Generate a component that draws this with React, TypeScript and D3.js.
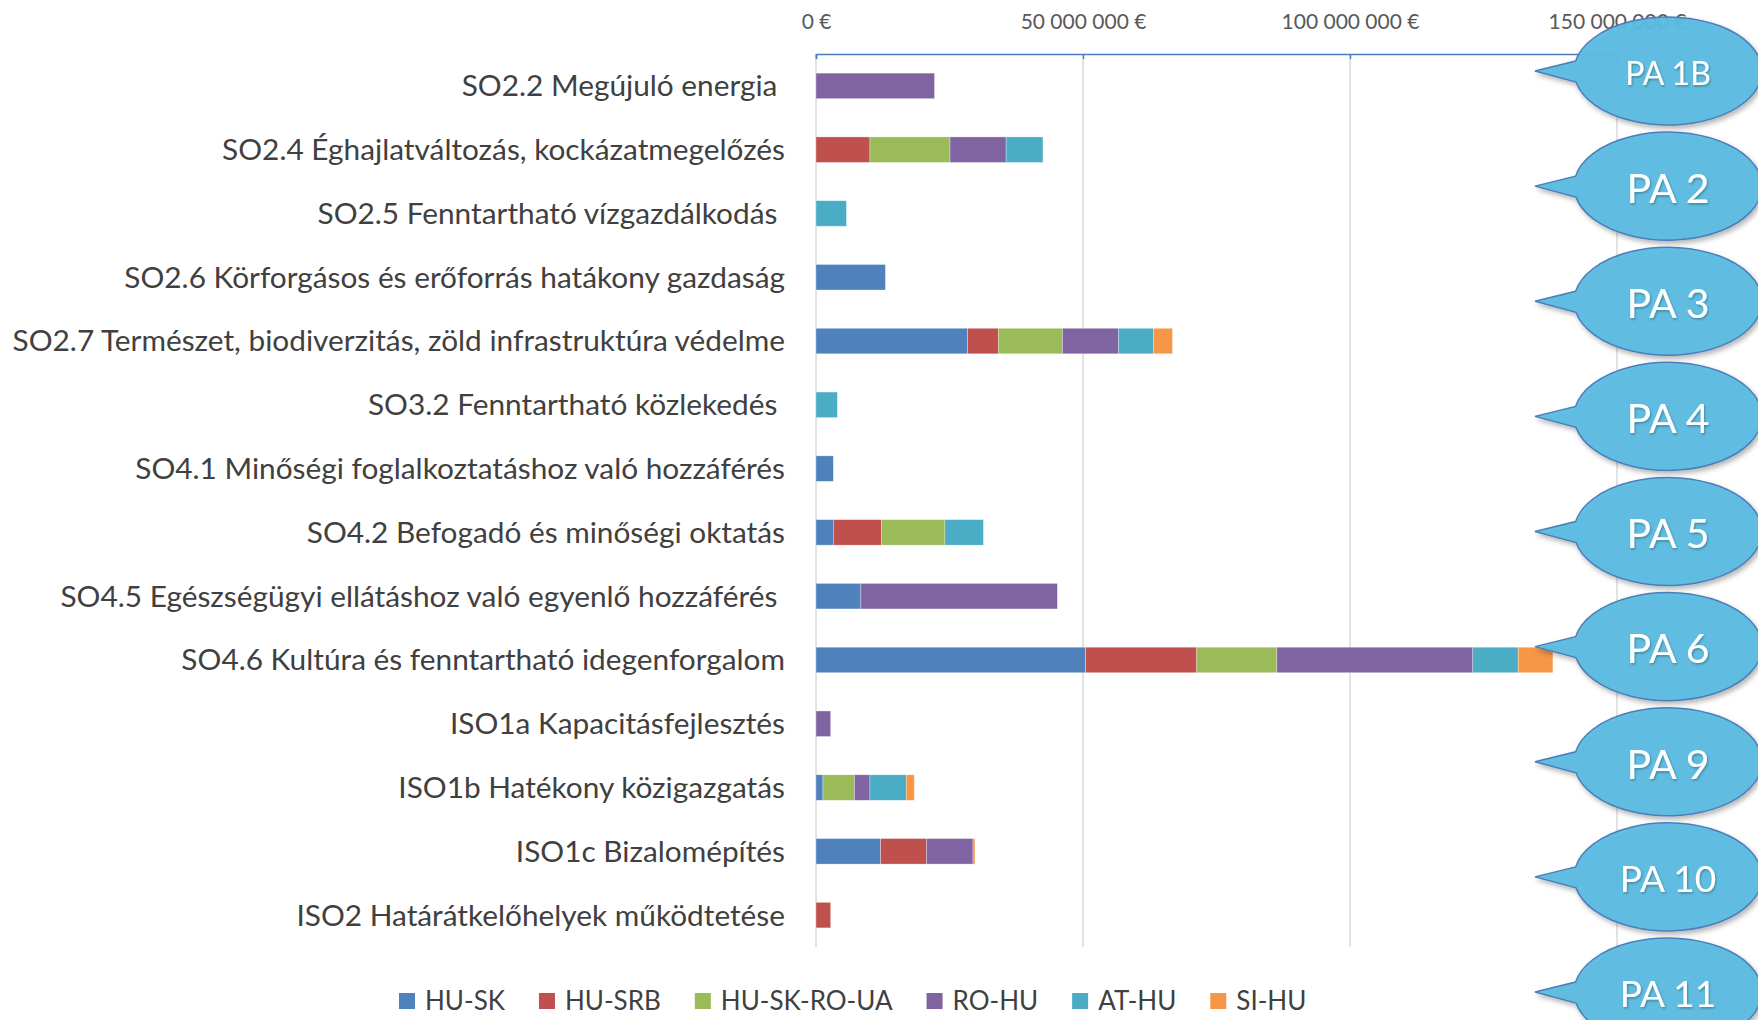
import React, { useEffect, useRef } from "react";
import * as d3 from "d3";

// values in million €
const categories = [
  "SO2.2 Megújuló energia ",
  "SO2.4 Éghajlatváltozás, kockázatmegelőzés",
  "SO2.5 Fenntartható vízgazdálkodás ",
  "SO2.6 Körforgásos és erőforrás hatákony gazdaság",
  "SO2.7 Természet, biodiverzitás, zöld infrastruktúra védelme",
  "SO3.2 Fenntartható közlekedés ",
  "SO4.1 Minőségi foglalkoztatáshoz való hozzáférés",
  "SO4.2 Befogadó és minőségi oktatás",
  "SO4.5 Egészségügyi ellátáshoz való egyenlő hozzáférés ",
  "SO4.6 Kultúra és fenntartható idegenforgalom",
  "ISO1a Kapacitásfejlesztés",
  "ISO1b Hatékony közigazgatás",
  "ISO1c Bizalomépítés",
  "ISO2 Határátkelőhelyek működtetése",
];

const seriesNames = ["HU-SK", "HU-SRB", "HU-SK-RO-UA", "RO-HU", "AT-HU", "SI-HU"];

const huSk = [0, 0, 0, 13.0, 28.4, 0, 3.25, 3.25, 8.4, 50.5, 0, 1.3, 12.1, 0];
const huSrb = [0, 10.1, 0, 0, 5.75, 0, 0, 9.0, 0, 20.8, 0, 0, 8.6, 2.75];
const huSkRoUa = [0, 15.0, 0, 0, 12.0, 0, 0, 11.9, 0, 15.0, 0, 5.9, 0, 0];
const roHu = [22.2, 10.5, 0, 0, 10.5, 0, 0, 0, 36.8, 36.7, 2.75, 2.9, 8.7, 0];
const atHu = [0, 6.9, 5.7, 0, 6.6, 4.0, 0, 7.2, 0, 8.5, 0, 6.8, 0, 0];
const siHu = [0, 0, 0, 0, 3.5, 0, 0, 0, 0, 6.5, 0, 1.5, 0.37, 0];

const tickValues = [0, 50, 100, 150];

const calloutLabels = ["PA 1B", "PA 2", "PA 3", "PA 4", "PA 5", "PA 6", "PA 9", "PA 10", "PA 11"];

const colors = ["#4F81BD", "#C0504D", "#9BBB59", "#8064A2", "#4BACC6", "#F79646"];
const calloutFont: Record<string, number> = { "PA 1B": 32, "PA 10": 37, "PA 11": 37 };

const App = () => {
  const svgRef = useRef<SVGSVGElement>(null);

  useEffect(() => {
    const svg = d3.select(svgRef.current);
    svg.selectAll("*").remove();

    const width = 1758,
      height = 1020;
    const margin = { top: 54, left: 816, right: 141, bottom: 73 };
    const font = "Lato, 'Open Sans', sans-serif";

    const columns = [huSk, huSrb, huSkRoUa, roHu, atHu, siHu];
    const rows = categories.map((c, i) => {
      const r: any = { cat: c };
      seriesNames.forEach((s, j) => (r[s] = columns[j][i]));
      return r;
    });
    const stacked = d3.stack().keys(seriesNames)(rows);

    const x = d3.scaleLinear().domain([0, 150]).range([margin.left, width - margin.right]);
    const y = d3
      .scaleBand()
      .domain(categories)
      .range([margin.top, height - margin.bottom])
      .paddingInner(0.6)
      .paddingOuter(0.3);

    const defs = svg.append("defs");
    const sh = defs.append("filter").attr("id", "shadow").attr("x", "-20%").attr("y", "-20%").attr("width", "140%").attr("height", "150%");
    sh.append("feDropShadow").attr("dx", 2).attr("dy", 3).attr("stdDeviation", 2.5).attr("flood-color", "#000").attr("flood-opacity", 0.3);
    const tsh = defs.append("filter").attr("id", "tshadow");
    tsh.append("feDropShadow").attr("dx", 1).attr("dy", 1.5).attr("stdDeviation", 1).attr("flood-color", "#000").attr("flood-opacity", 0.3);

    // gridlines
    svg
      .append("g")
      .selectAll("line")
      .data(tickValues)
      .enter()
      .append("line")
      .attr("x1", (d) => x(d))
      .attr("x2", (d) => x(d))
      .attr("y1", margin.top)
      .attr("y2", height - margin.bottom)
      .attr("stroke", "#D9D9D9")
      .attr("stroke-width", 1.5);

    // top axis
    const fmt = (v: number) => d3.format(",")(v * 1e6).replace(/,/g, " ") + " €";
    const axis = svg
      .append("g")
      .attr("transform", `translate(0, ${margin.top})`)
      .call(d3.axisTop(x).tickValues(tickValues).tickFormat(fmt as any).tickSizeInner(-5).tickSizeOuter(-5).tickPadding(25));
    axis.select(".domain").attr("stroke", "#4A7EBB").attr("stroke-width", 1.5);
    axis.selectAll(".tick line").attr("stroke", "#4A7EBB").attr("stroke-width", 1.5);
    axis.selectAll("text").attr("fill", "#595959").attr("font-size", 21).attr("font-family", font);

    // stacked bars
    svg
      .append("g")
      .selectAll("g")
      .data(stacked)
      .enter()
      .append("g")
      .attr("fill", (d, i) => colors[i])
      .selectAll("rect")
      .data((d) => d.filter((p) => p[1] - p[0] > 0))
      .enter()
      .append("rect")
      .attr("x", (d) => x(d[0]))
      .attr("y", (d) => y(d.data.cat as string)!)
      .attr("width", (d) => x(d[1]) - x(d[0]))
      .attr("height", y.bandwidth())
      .attr("stroke", "#ffffff")
      .attr("stroke-opacity", 0.5)
      .attr("stroke-width", 0.6);

    // category labels
    svg
      .append("g")
      .selectAll("text")
      .data(categories)
      .enter()
      .append("text")
      .attr("x", 785)
      .attr("y", (d) => y(d)! + y.bandwidth() / 2)
      .attr("dy", "0.35em")
      .attr("text-anchor", "end")
      .attr("fill", "#404040")
      .attr("font-size", 29.8)
      .attr("font-family", font)
      .style("white-space", "pre")
      .text((d) => d);

    // legend
    const legend = svg.append("g").attr("transform", "translate(399, 1001)");
    let lx = 0;
    seriesNames.forEach((s, i) => {
      const g = legend.append("g").attr("transform", `translate(${lx}, 0)`);
      g.append("rect").attr("x", 0).attr("y", -8).attr("width", 16).attr("height", 16).attr("fill", colors[i]);
      const t = g
        .append("text")
        .attr("x", 26)
        .attr("y", 0)
        .attr("dy", "0.35em")
        .attr("fill", "#404040")
        .attr("font-size", 26)
        .attr("font-family", font)
        .text(s);
      const w = (t.node() as SVGTextElement).getComputedTextLength();
      lx += 26 + w + 34;
    });

    // callouts
    const cy = d3.scalePoint().domain(calloutLabels).range([71, 992]);
    const cx = 1668,
      rx = 94,
      ry = 54,
      tipX = 1535;
    const calls = svg
      .append("g")
      .selectAll("g")
      .data(calloutLabels)
      .enter()
      .append("g")
      .attr("transform", (d) => `translate(${cx}, ${cy(d)})`);

    const bx = (dy: number) => -rx * Math.sqrt(1 - (dy * dy) / (ry * ry));
    calls
      .append("path")
      .attr(
        "d",
        `M${tipX - cx},0 L${bx(-10)},-10 A${rx} ${ry} 0 1 1 ${bx(11)},11 Z`
      )
      .attr("fill", "#5BBCE1")
      .attr("fill-opacity", 0.95)
      .attr("stroke", "#4A7EBB")
      .attr("stroke-width", 1.5)
      .attr("filter", "url(#shadow)");

    calls
      .append("text")
      .attr("x", 0)
      .attr("y", 2)
      .attr("dy", "0.36em")
      .attr("text-anchor", "middle")
      .attr("fill", "#ffffff")
      .attr("font-size", (d) => calloutFont[d] || 41)
      .attr("font-family", font)
      .attr("filter", "url(#tshadow)")
      .text((d) => d);
  }, []);

  return (
    <svg
      ref={svgRef}
      width={1758}
      height={1020}
      style={{ position: "absolute", left: 0, top: 0, background: "#fff" }}
    ></svg>
  );
};

export default App;
